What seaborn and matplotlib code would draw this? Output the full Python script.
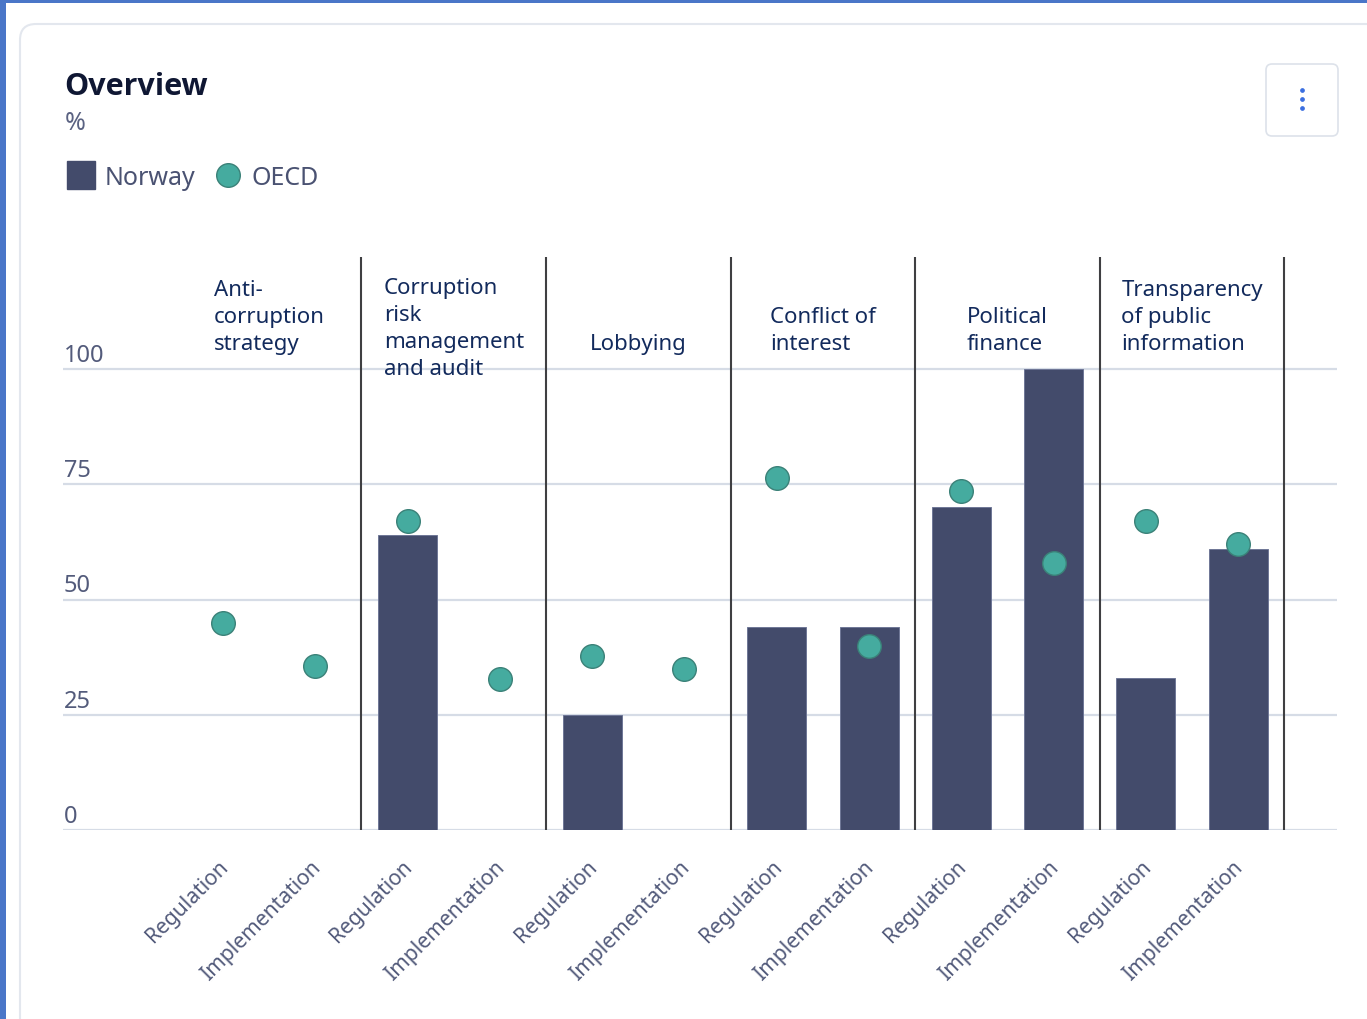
import numpy as np
import pandas as pd
import matplotlib
matplotlib.use("Agg")
import matplotlib.pyplot as plt
from matplotlib.patches import FancyBboxPatch, Rectangle
from matplotlib.lines import Line2D
from matplotlib.transforms import ScaledTranslation
import seaborn as sns

# ---------------- data ----------------
groups = ["Anti-corruption strategy", "Corruption risk management and audit",
          "Lobbying", "Conflict of interest", "Political finance",
          "Transparency of public information"]
group_labels = ["Anti-\ncorruption\nstrategy", "Corruption\nrisk\nmanagement\nand audit",
                "Lobbying", "Conflict of\ninterest", "Political\nfinance",
                "Transparency\nof public\ninformation"]
pillars = ["Regulation", "Implementation"]
norway = [np.nan, np.nan, 64, np.nan, 25, np.nan, 44, 44, 70, 100, 33, 61]
oecd = [45, 35.5, 67, 32.8, 37.7, 35, 76.4, 40, 73.5, 58, 67, 62]
y_ticks = [0, 25, 50, 75, 100]

slots = [f"{g}|{p}" for g in groups for p in pillars]
tick_text = [p for g in groups for p in pillars]
df_n = pd.DataFrame({"slot": slots, "value": norway}).dropna()
df_o = pd.DataFrame({"slot": slots, "value": oecd})

# ---------------- style ----------------
sns.set_theme(style="white")
plt.rcParams["font.family"] = ["Noto Sans", "DejaVu Sans"]

BAR = "#434b6b"
DOT = "#45ab9f"
DOT_EDGE = "#3b8178"
GRID = "#d6dce6"
DIV = "#3f3f42"
TXT = "#122a5c"
TICK = "#535b7b"

W, H = 1367, 1020
fig = plt.figure(figsize=(W / 100, H / 100), dpi=100)
fig.patch.set_facecolor("white")

# page decorations
fig.add_artist(Rectangle((0, 1 - 4 / H), 1, 4 / H, transform=fig.transFigure,
                         facecolor="#4a76c8", edgecolor="none", zorder=-2))
fig.add_artist(Rectangle((0, 0), 6 / W, 1, transform=fig.transFigure,
                         facecolor="#4a76c8", edgecolor="none", zorder=-2))
fig.add_artist(FancyBboxPatch((0.2, -1.0), 15, (H - 25) / 100 + 1.0,
                              boxstyle="round,pad=0,rounding_size=0.16",
                              transform=fig.dpi_scale_trans, zorder=-1,
                              facecolor="white", edgecolor="#e3e7ee", linewidth=1.5))
# menu button
fig.add_artist(FancyBboxPatch((12.66, (H - 137) / 100), 0.72, 0.72,
                              boxstyle="round,pad=0,rounding_size=0.06",
                              transform=fig.dpi_scale_trans, zorder=-1,
                              facecolor="white", edgecolor="#dde2ea", linewidth=1.2))
fig.add_artist(Line2D([1302 / W] * 3, [1 - 91 / H, 1 - 100 / H, 1 - 109 / H],
                      transform=fig.transFigure, marker="o", markersize=2.4,
                      linestyle="none", color="#3b6fe0"))

# title
fig.text(64 / W, 1 - 95 / H, "Overview", fontsize=22, fontweight="bold",
         family=["Open Sans", "Noto Sans", "DejaVu Sans"],
         color="#0f1733", va="baseline", ha="left")
fig.text(65 / W, 1 - 130 / H, "%", fontsize=18, color="#5a6282",
         va="baseline", ha="left")

# ---------------- axes ----------------
top_val = 125
px_per = 4.61
ax = fig.add_axes([63 / W, (H - 831) / H, 1274 / W, top_val * px_per / H])
ax.set_facecolor("none")
ax.set_zorder(2)

sns.barplot(data=df_n, x="slot", y="value", order=slots, color=BAR,
            width=0.64, saturation=1, errorbar=None, ax=ax,
            edgecolor="#6f7797", linewidth=0.7, zorder=3)
sns.stripplot(data=df_o, x="slot", y="value", order=slots, jitter=False,
              color=DOT, edgecolor=DOT_EDGE, linewidth=1.0, size=17,
              ax=ax, zorder=5)

ax.set_xlim(-1.733, 12.07)
ax.set_ylim(0, top_val)
ax.set_xlabel("")
ax.set_ylabel("")
for s in ax.spines.values():
    s.set_visible(False)

ax.set_yticks(y_ticks)
ax.yaxis.grid(True, color=GRID, linewidth=1.6)
ax.set_axisbelow(True)
ax.tick_params(axis="y", length=0, pad=-0.5, labelsize=17, labelcolor=TICK)
up = ScaledTranslation(0, 2 / 100, fig.dpi_scale_trans)
for lab in ax.get_yticklabels():
    lab.set_ha("left")
    lab.set_va("bottom")
    lab.set_transform(lab.get_transform() + up)

ax.set_xticks(range(len(slots)))
ax.set_xticklabels(tick_text, rotation=45, ha="right", va="center",
                   rotation_mode="anchor")
ax.tick_params(axis="x", length=0, pad=24, labelsize=15.2, labelcolor=TICK)
right = ScaledTranslation(2 / 100, 0, fig.dpi_scale_trans)
for lab in ax.get_xticklabels():
    lab.set_transform(lab.get_transform() + right)

# group dividers and labels
n_g = len(groups)
ax.vlines([2 * i + 1.5 for i in range(n_g)], 0, 124.3, color=DIV,
          linewidth=1.5, zorder=4)
for i, lab in enumerate(group_labels):
    cx = 2 * i + 0.5
    if lab.count("\n") >= 3:
        ax.text(cx, 120.0, lab, ha="center", va="top", multialignment="left",
                fontsize=16, color=TXT, linespacing=1.37, zorder=6)
    else:
        ax.text(cx, 103.3, lab, ha="center", va="bottom", multialignment="left",
                fontsize=16, color=TXT, linespacing=1.37, zorder=6)

# legend
handles = [
    Line2D([], [], marker="s", color=BAR, markersize=20, linestyle="none",
           label="Norway"),
    Line2D([], [], marker="o", markerfacecolor=DOT, markeredgecolor=DOT_EDGE,
           markersize=17, linestyle="none", label="OECD"),
]
fig.legend(handles=handles, loc="upper left",
           bbox_to_anchor=(66 / W, 1 - 166 / H), ncol=2, frameon=False,
           fontsize=18, handletextpad=0.35, columnspacing=0.7,
           handlelength=1.2, borderpad=0, borderaxespad=0,
           labelcolor="#4a5272")

fig.savefig("out.png", dpi=100, facecolor="white")
